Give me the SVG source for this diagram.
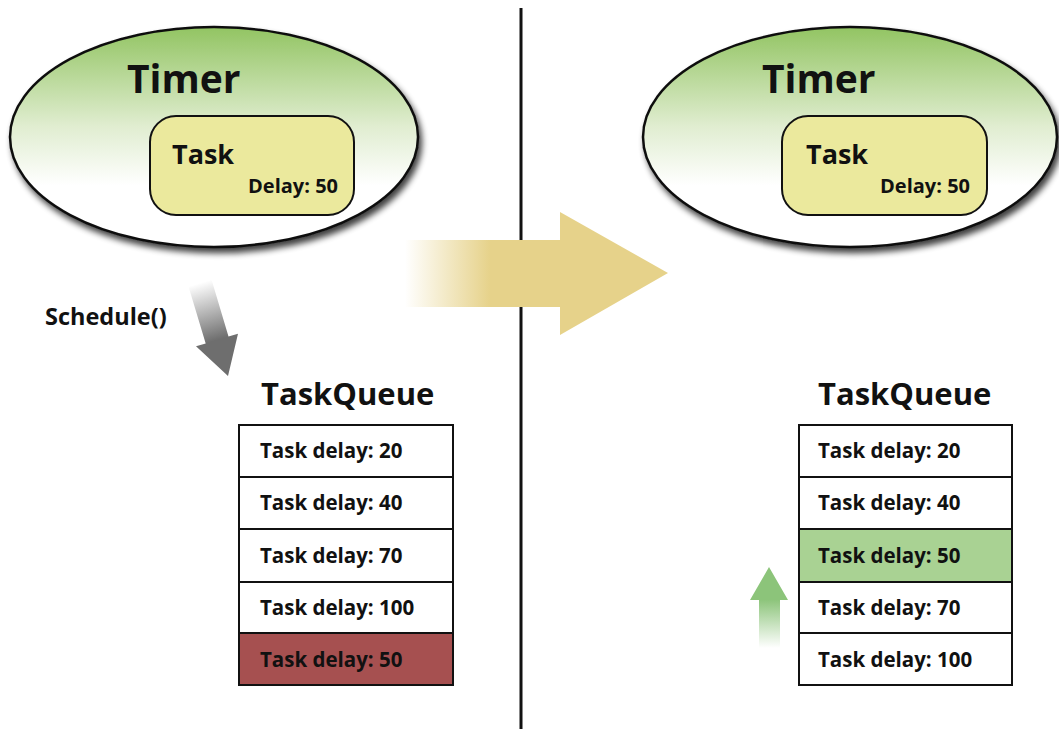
<svg xmlns="http://www.w3.org/2000/svg" width="1059" height="729" viewBox="0 0 1059 729">
  <defs>
    <linearGradient id="timerFill" x1="0" y1="0" x2="0" y2="1">
      <stop offset="0" stop-color="#92c462"/>
      <stop offset="0.45" stop-color="#e0edd0"/>
      <stop offset="0.72" stop-color="#ffffff"/>
      <stop offset="1" stop-color="#ffffff"/>
    </linearGradient>
    <linearGradient id="bigArrowFill" gradientUnits="userSpaceOnUse" x1="405" y1="0" x2="490" y2="0">
      <stop offset="0" stop-color="#e6d28a" stop-opacity="0"/>
      <stop offset="1" stop-color="#e6d28a" stop-opacity="1"/>
    </linearGradient>
    <linearGradient id="scheduleFill" gradientUnits="userSpaceOnUse" x1="200" y1="283" x2="217" y2="340">
      <stop offset="0" stop-color="#ffffff"/>
      <stop offset="1" stop-color="#6e6e6e"/>
    </linearGradient>
    <linearGradient id="upFill" x1="0" y1="1" x2="0" y2="0">
      <stop offset="0" stop-color="#8cc47a" stop-opacity="0"/>
      <stop offset="0.6" stop-color="#8cc47a" stop-opacity="1"/>
      <stop offset="1" stop-color="#8cc47a"/>
    </linearGradient>
    <filter id="shadow" x="-10%" y="-10%" width="125%" height="130%">
      <feGaussianBlur in="SourceAlpha" stdDeviation="3"/>
      <feOffset dx="3" dy="5" result="b"/>
      <feComponentTransfer><feFuncA type="linear" slope="0.75"/></feComponentTransfer>
      <feMerge><feMergeNode/><feMergeNode in="SourceGraphic"/></feMerge>
    </filter>
  </defs>
  <style>
    text { font-family: "Open Sans", "Liberation Sans", sans-serif; font-weight: bold; fill: #111; }
    .timer { font-size: 39px; }
    .task { font-size: 27px; }
    .delay { font-size: 20px; text-anchor: end; }
    .title { font-size: 31px; }
    .row { font-size: 20.5px; }
    .label { font-size: 23.5px; }
    .ellipse { fill: url(#timerFill); stroke: #111; stroke-width: 2.5; }
    .taskbox { fill: #ebe99d; stroke: #111; stroke-width: 2; }
    .cell { fill: #ffffff; stroke: #111; stroke-width: 2; }
    .late { fill: #a65050; }
    .placed { fill: #a9d293; }
  </style>

  <rect width="1059" height="729" fill="#ffffff"/>

  <!-- divider between the two states -->
  <line x1="521" y1="8" x2="521" y2="729" stroke="#111" stroke-width="3"/>

  <!-- left: timer holding the task -->
  <g id="timer-left">
    <ellipse class="ellipse" cx="214" cy="137" rx="204" ry="110" filter="url(#shadow)"/>
    <text class="timer" x="127" y="93">Timer</text>
    <g id="task-left">
      <rect class="taskbox" x="150" y="116" width="204" height="99" rx="26"/>
      <text class="task" x="172" y="164">Task</text>
      <text class="delay" x="338" y="193">Delay: 50</text>
    </g>
  </g>

  <!-- right: timer after scheduling -->
  <g id="timer-right">
    <ellipse class="ellipse" cx="850" cy="137" rx="207" ry="110" filter="url(#shadow)"/>
    <text class="timer" x="762" y="93">Timer</text>
    <g id="task-right">
      <rect class="taskbox" x="782" y="116" width="205" height="99" rx="26"/>
      <text class="task" x="806" y="164">Task</text>
      <text class="delay" x="970" y="193">Delay: 50</text>
    </g>
  </g>

  <!-- left queue: task appended at the end -->
  <g id="queue-left">
    <text class="title" x="261" y="405">TaskQueue</text>
    <rect class="cell" x="239" y="425" width="214" height="52"/>
    <rect class="cell" x="239" y="477" width="214" height="52"/>
    <rect class="cell" x="239" y="529" width="214" height="53"/>
    <rect class="cell" x="239" y="582" width="214" height="51"/>
    <rect class="cell late" x="239" y="633" width="214" height="52"/>
    <text class="row" x="260" y="458">Task delay: 20</text>
    <text class="row" x="260" y="510">Task delay: 40</text>
    <text class="row" x="260" y="563">Task delay: 70</text>
    <text class="row" x="260" y="615">Task delay: 100</text>
    <text class="row" x="260" y="667">Task delay: 50</text>
  </g>

  <!-- right queue: task sorted into place -->
  <g id="queue-right">
    <text class="title" x="818" y="405">TaskQueue</text>
    <rect class="cell" x="799" y="425" width="213" height="52"/>
    <rect class="cell" x="799" y="477" width="213" height="52"/>
    <rect class="cell placed" x="799" y="529" width="213" height="53"/>
    <rect class="cell" x="799" y="582" width="213" height="51"/>
    <rect class="cell" x="799" y="633" width="213" height="52"/>
    <text class="row" x="818" y="458">Task delay: 20</text>
    <text class="row" x="818" y="510">Task delay: 40</text>
    <text class="row" x="818" y="563">Task delay: 50</text>
    <text class="row" x="818" y="615">Task delay: 70</text>
    <text class="row" x="818" y="667">Task delay: 100</text>
  </g>

  <g id="connectors">
    <!-- schedule() call into the queue -->
    <text class="label" x="45" y="325">Schedule()</text>
    <polygon fill="url(#scheduleFill)" points="188.5,286.4 211.5,279.6 228.5,336.6 238,333.7 228,376 196,346.3 205.7,343.5"/>
    <!-- transition between states -->
    <polygon fill="url(#bigArrowFill)" points="405,240 560,240 560,212 668,273 560,335 560,307 405,307"/>
    <!-- task moving up in the queue -->
    <polygon fill="url(#upFill)" points="759,648 780,648 780,600 788,600 769,567 750,600 759,600"/>
  </g>
</svg>
